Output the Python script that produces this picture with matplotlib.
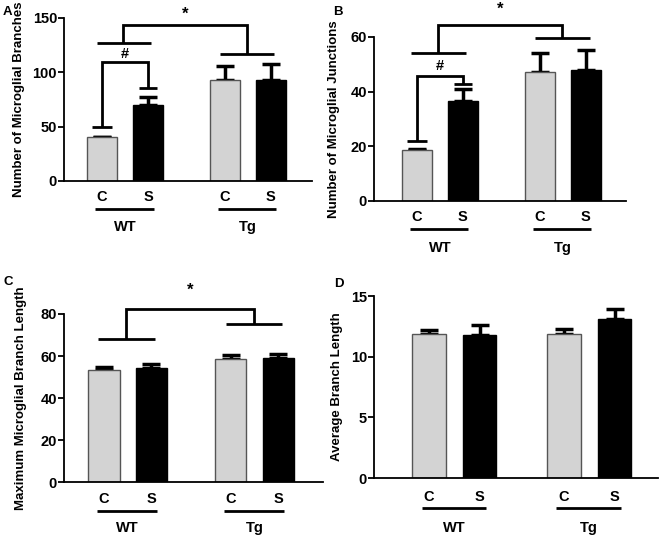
import matplotlib.pyplot as plt
from matplotlib.transforms import ScaledTranslation

plt.rcParams['font.family'] = ['Liberation Sans', 'DejaVu Sans']
plt.rcParams['font.weight'] = 'bold'

# group / condition labels
conditions = ["C", "S", "C", "S"]
groups = ["WT", "Tg"]

# A - number of microglial branches
branches_mean = [40, 70, 93, 92.5]
branches_err = [0.8, 7, 13, 15]
# B - number of microglial junctions
junctions_mean = [18.8, 36.5, 47.2, 47.8]
junctions_err = [0.4, 4.3, 6.8, 7.4]
# C - maximum microglial branch length
maxlen_mean = [53.2, 54.1, 58.6, 59.0]
maxlen_err = [1.8, 2.2, 1.7, 2.0]
# D - average branch length
avglen_mean = [11.86, 11.75, 11.9, 13.1]
avglen_err = [0.34, 0.9, 0.35, 0.8]

xpos = [0, 1, 2.67, 3.67]
colors = ["#d3d3d3", "black", "#d3d3d3", "black"]
edges = ["#555555", "black", "#555555", "black"]

W, H = 661, 536
fig = plt.figure(figsize=(W / 100, H / 100), dpi=100)


def make_axes(left, right, top, bottom):
    return fig.add_axes([left / W, 1 - bottom / H, (right - left) / W, (bottom - top) / H])


def seg(ax, xs, ys, lw=2):
    ax.plot(xs, ys, color="black", lw=lw, clip_on=False, solid_capstyle="butt",
            solid_joinstyle="miter")


def draw_panel(ax, means, errs, ylim, yticks, ylabel, xlim, letter, lab_x,
               offs=(16, 28, 46)):
    ax.bar(xpos, means, width=0.66, color=colors, edgecolor=edges, linewidth=1, zorder=2)
    ax.errorbar(xpos, means, yerr=[[0] * 4, errs], fmt="none", ecolor="black",
                elinewidth=2.5, capsize=6.5, capthick=2.5, zorder=1, clip_on=False)
    ax.set_xlim(*xlim)
    ax.set_ylim(*ylim)
    ax.set_yticks(yticks)
    ax.spines[["top", "right"]].set_visible(False)
    for s in ["left", "bottom"]:
        ax.spines[s].set_linewidth(1.3)
    ax.tick_params(axis="y", length=4, width=1.3, labelsize=10.5, pad=1)
    ax.tick_params(axis="x", length=0)
    ax.set_xticks([])
    ax.set_ylabel(ylabel, fontsize=9.5, fontweight="bold")
    ax.yaxis.set_label_coords(lab_x, 0.5)
    base = ax.get_xaxis_transform()
    t1 = base + ScaledTranslation(0, -offs[0] / 100, fig.dpi_scale_trans)
    t2 = base + ScaledTranslation(0, -offs[1] / 100, fig.dpi_scale_trans)
    t3 = base + ScaledTranslation(0, -offs[2] / 100, fig.dpi_scale_trans)
    for x, c in zip(xpos, conditions):
        ax.text(x, 0, c, transform=t1, ha="center", va="center", fontsize=10.5,
                fontweight="bold")
    for i, g in enumerate(groups):
        x0, x1 = xpos[2 * i], xpos[2 * i + 1]
        ax.plot([x0 - 0.15, x1 + 0.12], [0, 0], transform=t2, color="black", lw=2,
                clip_on=False, solid_capstyle="butt")
        ax.text((x0 + x1) / 2, 0, g, transform=t3, ha="center", va="center",
                fontsize=10.5, fontweight="bold")
    ax.text(0, 1, letter, transform=fig.transFigure, fontsize=9.5, fontweight="bold")


def group_bracket(ax, wt_y, tg_y, top_y, star_y):
    seg(ax, [-0.12, 1.07], [wt_y, wt_y])
    seg(ax, [2.56, 3.75], [tg_y, tg_y])
    seg(ax, [0.46, 0.46, 3.16, 3.16], [wt_y, top_y, top_y, tg_y])
    ax.text(1.81, star_y, "*", ha="center", va="center", fontsize=12, fontweight="bold")


def hash_bracket(ax, c_y, top_y, s_y, hash_y):
    seg(ax, [-0.22, 0.22], [c_y, c_y])
    seg(ax, [0.8, 1.2], [s_y, s_y])
    seg(ax, [0, 0, 1, 1], [c_y, top_y, top_y, s_y])
    ax.text(0.5, hash_y, "#", ha="center", va="center", fontsize=10.5, fontweight="bold")


# A
axA = make_axes(64, 312, 17.7, 181)
draw_panel(axA, branches_mean, branches_err, (0, 150), [0, 50, 100, 150],
           "Number of Microglial Branches", (-0.83, 4.57), "A", -0.157)
axA.texts[-1].set_position((3 / W, 1 - 15 / H))
hash_bracket(axA, 49.8, 109, 85.6, 116.5)
group_bracket(axA, 127, 117, 143, 153)

# B
axB = make_axes(374, 626, 37, 201)
draw_panel(axB, junctions_mean, junctions_err, (0, 60), [0, 20, 40, 60],
           "Number of Microglial Junctions", (-0.93, 4.54), "B", -0.135, offs=(16, 28, 47))
axB.texts[-1].set_position((333 / W, 1 - 15 / H))
hash_bracket(axB, 21.8, 45.6, 42.9, 49.5)
group_bracket(axB, 54.1, 59.6, 64.5, 70)

# C
axC = make_axes(64, 323, 314, 482)
draw_panel(axC, maxlen_mean, maxlen_err, (0, 80), [0, 20, 40, 60, 80],
           "Maximum Microglial Branch Length", (-0.84, 4.61), "C", -0.143, offs=(17, 29, 46))
axC.texts[-1].set_position((3 / W, 1 - 285 / H))
group_bracket(axC, 68.1, 75.2, 82.5, 91.2)

# D
axD = make_axes(374, 658, 296, 478)
draw_panel(axD, avglen_mean, avglen_err, (0, 15), [0, 5, 10, 15],
           "Average Branch Length", (-1.09, 4.53), "D", -0.109, offs=(19, 30, 50))
axD.texts[-1].set_position((334 / W, 1 - 287 / H))

fig.savefig("out.png", dpi=100)
